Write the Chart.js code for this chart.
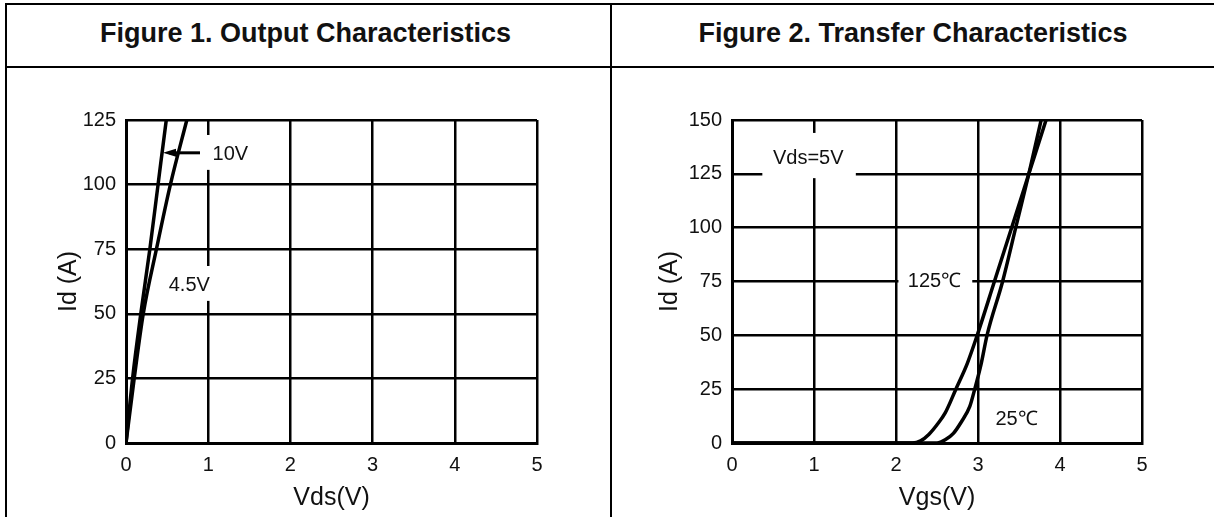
<!DOCTYPE html>
<html>
<head>
<meta charset="utf-8">
<script src="https://cdn.jsdelivr.net/npm/chart.js@4.4.1/dist/chart.umd.min.js"></script>
<style>
  html, body { margin: 0; padding: 0; background: #fff; width: 1214px; height: 517px; overflow: hidden;
    font-family: "Liberation Sans", Arial, sans-serif; }
  .rule { position: absolute; background: #000; }
  .head { position: absolute; top: 3px; height: 61px; display: flex; align-items: center; justify-content: center;
    font-weight: bold; font-size: 27px; color: #111; }
  canvas { position: absolute; }
</style>
</head>
<body>
<div class="rule" style="left:5px;top:3px;width:1214px;height:2px"></div>
<div class="rule" style="left:5px;top:3px;width:2px;height:520px"></div>
<div class="rule" style="left:5px;top:66px;width:1214px;height:2px"></div>
<div class="rule" style="left:610px;top:3px;width:2px;height:520px"></div>
<div class="head" style="left:7px;width:597px">Figure 1. Output Characteristics</div>
<div class="head" style="left:612px;width:602px">Figure 2. Transfer Characteristics</div>
<canvas id="outputChart" width="600" height="448" style="left:8px;top:69px"></canvas>
<canvas id="transferChart" width="590" height="448" style="left:618px;top:69px"></canvas>

<script>
// Figure 1: output characteristics, Id vs Vds for two gate voltages
const vdsGate10V  = [0, 0.08, 0.18, 0.29, 0.39, 0.49, 0.56];
const idGate10V   = [0, 25, 50, 75, 100, 125, 140];
const vdsGate4V5  = [0, 0.10, 0.21, 0.37, 0.54, 0.74, 0.86];
const idGate4V5   = [0, 25, 50, 75, 100, 125, 140];

// Figure 2: transfer characteristics at Vds = 5 V, Id vs Vgs for two temperatures
const vgsHot  = [0, 2.2, 2.3, 2.4, 2.5, 2.6, 2.73, 2.87, 2.99, 3.2, 3.41, 3.62, 3.83, 3.93];
const idHot   = [0, 0, 1, 4, 8.5, 14, 25, 37, 50, 75, 100, 125, 150, 162];
const vgsRoom = [0, 2.5, 2.6, 2.7, 2.8, 2.9, 2.96, 3.04, 3.11, 3.3, 3.46, 3.62, 3.77, 3.85];
const idRoom  = [0, 0, 1.5, 4.5, 10, 17, 25, 37, 50, 75, 100, 125, 150, 163];

// Axis ticks
const vTicks = [0, 1, 2, 3, 4, 5];
const idTicksOutput   = [0, 25, 50, 75, 100, 125];
const idTicksTransfer = [0, 25, 50, 75, 100, 125, 150];

const FONT = '"Liberation Sans", Arial, sans-serif';
const INK = '#111';

function toPoints(xs, ys) { return xs.map((v, i) => ({ x: v, y: ys[i] })); }

function curve(xs, ys) {
  return {
    data: toPoints(xs, ys),
    showLine: true,
    borderColor: '#000',
    borderWidth: 3.5,
    pointRadius: 0,
    fill: false,
    cubicInterpolationMode: 'monotone',
    clip: 0
  };
}

// Text labels with white backing boxes and leader arrows, placed in data units
const curveNotes = {
  id: 'curveNotes',
  beforeDatasetsDraw(chart, args, opts) {
    const { ctx, scales: { x, y } } = chart;
    ctx.save();
    ctx.fillStyle = '#fff';
    for (const b of opts.boxes || []) {
      const l = x.getPixelForValue(b.x0), r = x.getPixelForValue(b.x1);
      const t = y.getPixelForValue(b.y1), btm = y.getPixelForValue(b.y0);
      ctx.fillRect(l, t, r - l, btm - t);
    }
    ctx.strokeStyle = '#000';
    ctx.fillStyle = '#000';
    for (const a of opts.arrows || []) {
      const px0 = x.getPixelForValue(a.x0), px1 = x.getPixelForValue(a.x1), py = y.getPixelForValue(a.y);
      ctx.lineWidth = 3;
      ctx.beginPath(); ctx.moveTo(px0 + 6, py); ctx.lineTo(px1, py); ctx.stroke();
      ctx.beginPath();
      ctx.moveTo(px0, py); ctx.lineTo(px0 + 13, py - 4); ctx.lineTo(px0 + 13, py + 4); ctx.closePath();
      ctx.fill();
    }
    ctx.fillStyle = INK;
    ctx.textAlign = 'center';
    ctx.textBaseline = 'middle';
    ctx.font = '20px ' + FONT;
    for (const t of opts.texts || []) {
      ctx.fillText(t.text, x.getPixelForValue(t.x), y.getPixelForValue(t.y));
    }
    ctx.restore();
  }
};

function buildChart(id, datasets, yTicks, xTitle, layout, notes) {
  const yMax = yTicks[yTicks.length - 1];
  return new Chart(document.getElementById(id), {
    type: 'scatter',
    data: { datasets },
    plugins: [curveNotes],
    options: {
      responsive: false,
      animation: false,
      events: [],
      layout: { padding: { top: layout.top, right: layout.right, left: 0, bottom: 0 } },
      plugins: { legend: { display: false }, tooltip: { enabled: false }, curveNotes: notes },
      scales: {
        x: {
          type: 'linear', min: vTicks[0], max: vTicks[vTicks.length - 1],
          afterBuildTicks: s => { s.ticks = vTicks.map(v => ({ value: v })); },
          afterFit: s => { s.height = layout.xAxisHeight; },
          grid: { color: '#000', lineWidth: 2.5, drawTicks: false },
          border: { display: true, color: '#000', width: 3 },
          ticks: { color: INK, padding: 10, font: { family: FONT, size: 20 }, maxRotation: 0 },
          title: { display: true, text: xTitle, color: INK, font: { family: FONT, size: 25 },
                   padding: { top: 0, bottom: 4 } }
        },
        y: {
          type: 'linear', min: 0, max: yMax,
          afterBuildTicks: s => { s.ticks = yTicks.map(v => ({ value: v })); },
          afterFit: s => { s.width = layout.yAxisWidth; },
          grid: { color: '#000', lineWidth: 2.5, drawTicks: false },
          border: { display: true, color: '#000', width: 3 },
          ticks: { color: INK, padding: 10, font: { family: FONT, size: 20 } },
          title: { display: true, text: 'Id (A)', color: INK, font: { family: FONT, size: 25 },
                   padding: { top: layout.yTitleOffset, bottom: 0 } }
        }
      }
    }
  });
}

buildChart('outputChart',
  [curve(vdsGate10V, idGate10V), curve(vdsGate4V5, idGate4V5)],
  idTicksOutput, 'Vds(V)',
  { top: 51, right: 71, xAxisHeight: 74, yAxisWidth: 118, yTitleOffset: 46 },
  {
    boxes: [
      { x0: 0.94, x1: 1.55, y0: 105.7, y1: 119.2 },
      { x0: 0.47, x1: 1.07, y0: 55, y1: 68.5 }
    ],
    arrows: [ { x0: 0.45, x1: 0.9, y: 112.3 } ],
    texts: [
      { text: '10V', x: 1.27, y: 111.5 },
      { text: '4.5V', x: 0.77, y: 61 }
    ]
  });

buildChart('transferChart',
  [curve(vgsHot, idHot), curve(vgsRoom, idRoom)],
  idTicksTransfer, 'Vgs(V)',
  { top: 51, right: 66, xAxisHeight: 74, yAxisWidth: 114, yTitleOffset: 37 },
  {
    boxes: [
      { x0: 0.37, x1: 1.51, y0: 123, y1: 144 },
      { x0: 2.03, x1: 2.93, y0: 70, y1: 79.4 }
    ],
    texts: [
      { text: 'Vds=5V', x: 0.93, y: 132.3 },
      { text: '125\u2103', x: 2.47, y: 75 },
      { text: '25\u2103', x: 3.47, y: 11 }
    ]
  });
</script>
</body>
</html>
